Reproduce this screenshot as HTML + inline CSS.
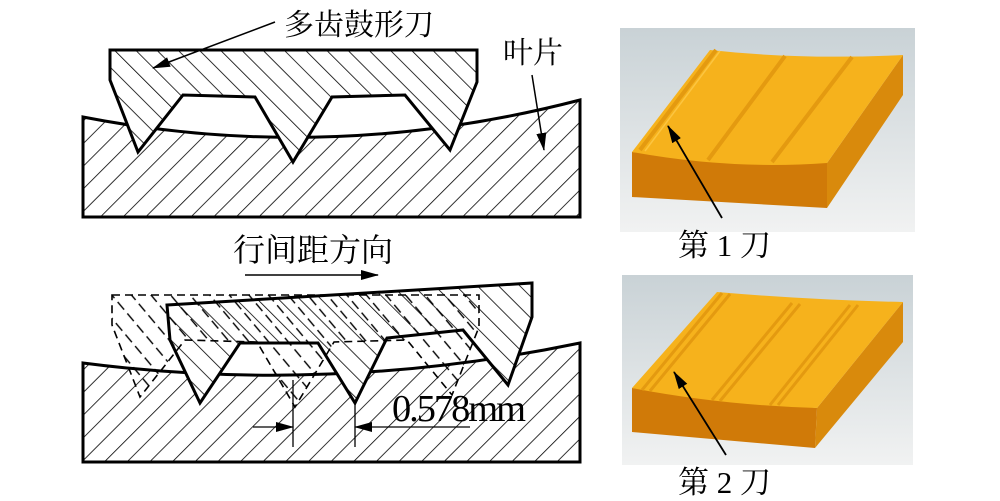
<!DOCTYPE html>
<html><head><meta charset="utf-8"><style>
html,body{margin:0;padding:0;background:#fff;}
svg{display:block}
text{font-family:"Liberation Serif","Noto Serif CJK SC","Noto Sans CJK SC",serif;fill:#000}
</style></head><body>
<svg width="1000" height="501" viewBox="0 0 1000 501" xmlns="http://www.w3.org/2000/svg">
<defs>
<pattern id="hw" patternUnits="userSpaceOnUse" width="16" height="16" patternTransform="rotate(45)">
<line x1="0" y1="0" x2="0" y2="16" stroke="#000" stroke-width="1.6"/></pattern>
<pattern id="hb" patternUnits="userSpaceOnUse" width="15" height="15" patternTransform="rotate(-45)">
<line x1="0" y1="0" x2="0" y2="15" stroke="#000" stroke-width="1.6"/></pattern>
<pattern id="hd" patternUnits="userSpaceOnUse" width="15" height="15" patternTransform="rotate(-40)">
<line x1="7" y1="0" x2="7" y2="15" stroke="#000" stroke-width="1.4" stroke-dasharray="8,5"/></pattern>
<linearGradient id="bg" x1="0" y1="0" x2="0" y2="1"><stop offset="0" stop-color="#c9d2d6"/><stop offset="1" stop-color="#f1f2f2"/></linearGradient>
<marker id="ar2" markerWidth="18" markerHeight="10" refX="17" refY="5" orient="auto" markerUnits="userSpaceOnUse"><path d="M0,0 L18,5 L0,10 Z" fill="#000"/></marker>
</defs>

<!-- TOP LEFT -->
<path d="M83,117 Q330,165 580,100 L580,217 L83,217 Z" fill="url(#hw)" stroke="#000" stroke-width="3"/>
<polygon points="110,50 477,50 477,82 450,150 405,95 332,97 293,162 255,97 183,95 138,152 110,80" fill="#fff" stroke="none"/>
<polygon points="110,50 477,50 477,82 450,150 405,95 332,97 293,162 255,97 183,95 138,152 110,80" fill="url(#hb)" stroke="#000" stroke-width="3"/>
<text x="284" y="35" font-size="30">多齿鼓形刀</text>
<line x1="275" y1="22" x2="153" y2="68" stroke="#000" stroke-width="1.5" marker-end="url(#ar2)"/>
<text x="503" y="63" font-size="30">叶片</text>
<line x1="532" y1="75" x2="544" y2="150" stroke="#000" stroke-width="1.5" marker-end="url(#ar2)"/>

<!-- BOTTOM LEFT -->
<path d="M83,363 Q330,395 580,343 L580,462 L83,462 Z" fill="url(#hw)" stroke="#000" stroke-width="3"/>
<polygon points="167,305 532,283 532,317 508,385 463,330 387,338 355,403 318,343 240,343 200,403 170,340" fill="#fff"/>
<polygon points="167,305 532,283 532,317 508,385 463,330 387,338 355,403 318,343 240,343 200,403 170,340" fill="url(#hb)" stroke="#000" stroke-width="3"/>
<g transform="translate(2,245)">
<polygon points="110,50 477,50 477,82 450,150 405,95 332,97 293,162 255,97 183,95 138,152 110,80" fill="url(#hd)" stroke="#000" stroke-width="1.6" stroke-dasharray="8,5"/>
</g>
<text x="233" y="261" font-size="32">行间距方向</text>
<line x1="245" y1="275" x2="378" y2="275" stroke="#000" stroke-width="1.5" marker-end="url(#ar2)"/>
<!-- dimension -->
<line x1="293" y1="380" x2="293" y2="447" stroke="#000" stroke-width="1.3"/>
<line x1="355" y1="403" x2="355" y2="447" stroke="#000" stroke-width="1.3"/>
<line x1="253" y1="427" x2="293" y2="427" stroke="#000" stroke-width="1.3" marker-end="url(#ar2)"/>
<line x1="470" y1="427" x2="355" y2="427" stroke="#000" stroke-width="1.3" marker-end="url(#ar2)"/>
<text x="392" y="421" font-size="38" letter-spacing="-2" textLength="132" lengthAdjust="spacingAndGlyphs">0.578mm</text>

<!-- RIGHT TOP -->
<rect x="620" y="28" width="295" height="204" fill="url(#bg)"/>
<polygon points="632,152 827,163 827,208 632,197" fill="#d07a08"/>
<polygon points="827,163 903,55 903,95 827,208" fill="#d98a0c"/>
<path d="M632,152 L710,50 Q800,60 903,55 L827,163 Q730,170 632,152 Z" fill="#f6b21c"/>
<g stroke="#e49a10" stroke-width="4">
<line x1="640" y1="150" x2="716" y2="50"/>
<line x1="708" y1="160" x2="785" y2="56"/>
<line x1="772" y1="162" x2="852" y2="57"/>
</g>
<g stroke="#fcc540" stroke-width="1.5">
<line x1="645" y1="151" x2="720" y2="51"/>
</g>
<text x="678" y="256" font-size="31">第 1 刀</text>
<line x1="722" y1="218" x2="668" y2="126" stroke="#000" stroke-width="1.8" marker-end="url(#ar2)"/>

<!-- RIGHT BOTTOM -->
<rect x="622" y="275" width="291" height="190" fill="url(#bg)"/>
<polygon points="632,388 817,408 815,448 632,432" fill="#d07a08"/>
<polygon points="817,408 903,302 903,342 815,448" fill="#d98a0c"/>
<path d="M632,388 L717,292 Q810,300 903,302 L817,408 Q720,405 632,388 Z" fill="#f6b21c"/>
<g stroke="#e49a10" stroke-width="3">
<line x1="642" y1="390" x2="722" y2="293"/>
<line x1="650" y1="391" x2="730" y2="294"/>
<line x1="712" y1="400" x2="792" y2="303"/>
<line x1="720" y1="401" x2="800" y2="304"/>
<line x1="770" y1="405" x2="850" y2="305"/>
<line x1="778" y1="405" x2="858" y2="305"/>
</g>
<text x="678" y="493" font-size="31">第 2 刀</text>
<line x1="726" y1="455" x2="674" y2="372" stroke="#000" stroke-width="1.8" marker-end="url(#ar2)"/>
</svg>
</body></html>
